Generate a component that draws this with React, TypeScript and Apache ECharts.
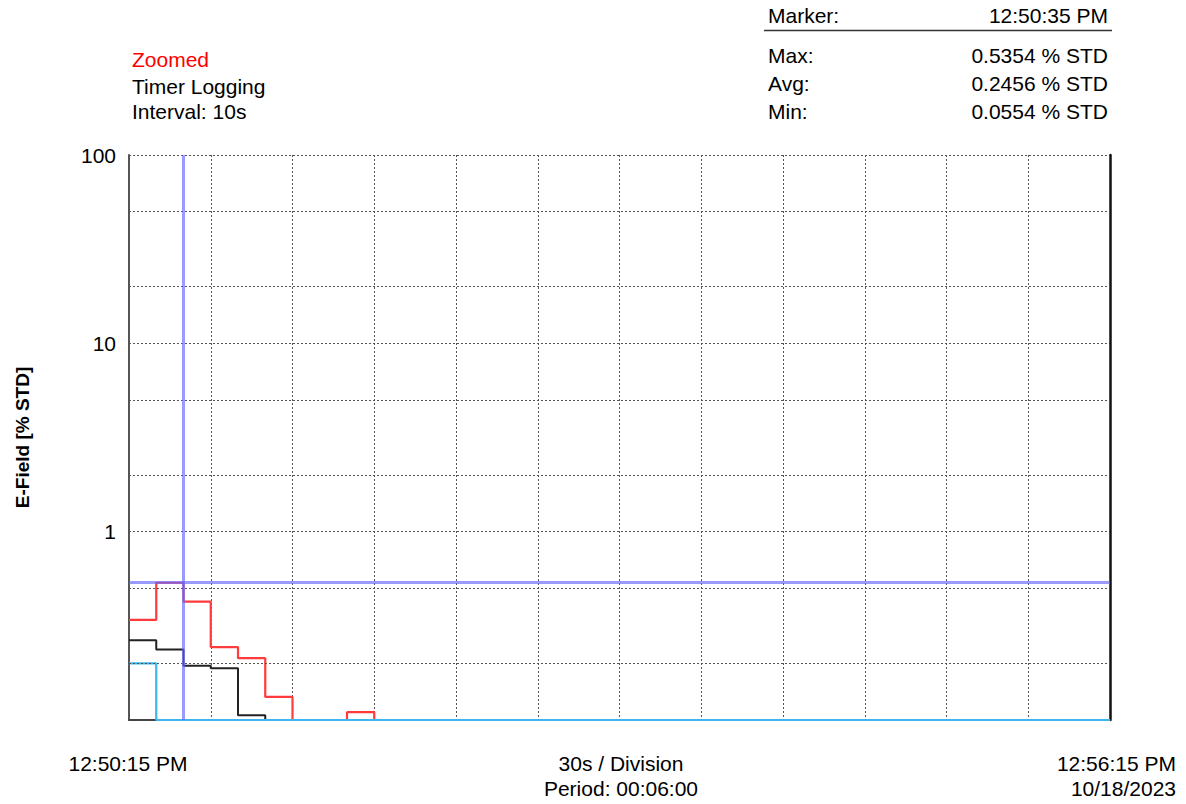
import React, { useEffect, useRef } from "react";
import * as echarts from "echarts";

// Time offsets (s) from 12:50:15 PM, one logged value every 10 s
const times = [
  0, 10, 20, 30, 40, 50, 60, 70, 80, 90, 100, 110, 120, 130, 140, 150, 160, 170,
  180, 190, 200, 210, 220, 230, 240, 250, 260, 270, 280, 290, 300, 310, 320, 330,
  340, 350, 360,
];
// values in % STD (values under 0.1 sit on the bottom of the chart)
const redValues = [
  0.34, 0.5354, 0.425, 0.244, 0.213, 0.1326, 0.085, 0.08, 0.11, 0.08, 0.075,
  0.075, 0.07, 0.07, 0.07, 0.072, 0.07, 0.07, 0.068, 0.07, 0.07, 0.07, 0.069,
  0.07, 0.07, 0.07, 0.07, 0.07, 0.071, 0.07, 0.07, 0.07, 0.07, 0.07, 0.07, 0.07,
  0.07,
];
const blackValues = [
  0.265, 0.237, 0.194, 0.188, 0.106, 0.08, 0.07, 0.068, 0.07, 0.066, 0.065,
  0.065, 0.064, 0.065, 0.065, 0.065, 0.064, 0.065, 0.065, 0.065, 0.065, 0.064,
  0.065, 0.065, 0.065, 0.065, 0.065, 0.065, 0.065, 0.064, 0.065, 0.065, 0.065,
  0.065, 0.065, 0.065, 0.065,
];
const cyanValues = [
  0.2, 0.06, 0.058, 0.057, 0.056, 0.056, 0.0554, 0.056, 0.056, 0.056, 0.056,
  0.056, 0.056, 0.056, 0.056, 0.056, 0.056, 0.056, 0.056, 0.056, 0.056, 0.056,
  0.056, 0.056, 0.056, 0.056, 0.056, 0.056, 0.056, 0.056, 0.056, 0.056, 0.056,
  0.056, 0.056, 0.056, 0.056,
];
const yMin = 0.1;
const yMax = 100;
const xMin = 0;
const xMax = 360;
const xDivision = 30;
const minorGridValues = [0.2, 0.5, 2, 5, 20, 50];
const markerTime = 20;
const maxValue = 0.5354;

const headerLeft = ["Zoomed", "Timer Logging", "Interval: 10s"];
const statLabels = ["Max:", "Avg:", "Min:"];
const statValues = ["0.5354 % STD", "0.2456 % STD", "0.0554 % STD"];
const markerLabel = "Marker:";
const markerValue = "12:50:35 PM";
const startLabel = "12:50:15 PM";
const endLabel = "12:56:15 PM";
const endDate = "10/18/2023";
const divisionLabel = "30s / Division";
const periodLabel = "Period: 00:06:00";
const yAxisName = "E-Field [% STD]";

const FONT = "'Liberation Sans', Arial, 'DejaVu Sans', sans-serif";
const FS = 21;

function toPairs(vals: number[]) {
  return times.map((t, i) => [t, Math.max(vals[i], yMin)]);
}

export default function App() {
  const ref = useRef<HTMLDivElement>(null);
  useEffect(() => {
    if (!ref.current) return;
    const chart = echarts.init(ref.current, null, { renderer: "svg" });
    const txt = (
      text: string,
      x: number,
      y: number,
      align: string,
      color = "#000"
    ) => ({
      type: "text",
      x,
      y,
      style: {
        text,
        fill: color,
        font: `${FS}px ${FONT}`,
        textAlign: align,
        textVerticalAlign: "middle",
      },
    });
    const graphics: any[] = [];
    headerLeft.forEach((t, i) =>
      graphics.push(txt(t, 132, [59, 86, 111][i], "left", i === 0 ? "#ff0000" : "#000"))
    );
    graphics.push(txt(markerLabel, 768, 15, "left"));
    graphics.push(txt(markerValue, 1108, 15, "right"));
    graphics.push({
      type: "line",
      shape: { x1: 764, y1: 30.5, x2: 1112, y2: 30.5 },
      style: { stroke: "#333", lineWidth: 1.5 },
    });
    statLabels.forEach((t, i) => {
      const y = [55, 83, 111][i];
      graphics.push(txt(t, 768, y, "left"));
      graphics.push(txt(statValues[i], 1108, y, "right"));
    });
    graphics.push(txt(startLabel, 128, 763, "center"));
    graphics.push(txt(divisionLabel, 621, 763, "center"));
    graphics.push(txt(periodLabel, 621, 788, "center"));
    graphics.push(txt(endLabel, 1176, 763, "right"));
    graphics.push(txt(endDate, 1176, 788, "right"));

    const dotted = { color: "#555", width: 1, type: [2, 2] as any };

    chart.setOption({
      animation: false,
      backgroundColor: "#fff",
      grid: {
        left: 129,
        right: 76,
        top: 155,
        bottom: 84,
        containLabel: false,
        outerBoundsMode: "none",
      },
      xAxis: {
        type: "value",
        min: xMin,
        max: xMax,
        interval: xDivision,
        axisLine: { show: true, lineStyle: { color: "#444", width: 2 } },
        axisTick: { show: false },
        axisLabel: { show: false },
        splitLine: { show: true, lineStyle: dotted },
      },
      yAxis: [
        {
          type: "log",
          logBase: 10,
          min: yMin,
          max: yMax,
          name: yAxisName,
          nameLocation: "middle",
          nameGap: 97,
          nameTextStyle: { fontFamily: FONT, fontSize: 19, fontWeight: "bold", color: "#000" },
          axisLine: { show: true, lineStyle: { color: "#555", width: 2 } },
          axisTick: { show: false },
          axisLabel: {
            showMinLabel: false,
            fontFamily: FONT,
            fontSize: FS,
            color: "#000",
            margin: 13,
            formatter: (v: number) => (v >= 1 ? String(Math.round(v)) : ""),
          },
          splitLine: { show: true, lineStyle: dotted },
        },
        {
          type: "log",
          logBase: 10,
          min: yMin,
          max: yMax,
          position: "right",
          axisLine: { show: true, lineStyle: { color: "#111", width: 2.5 } },
          axisTick: { show: false },
          axisLabel: { show: false },
          splitLine: { show: false },
        },
      ],
      series: [
        {
          type: "line",
          name: "grid",
          data: [],
          silent: true,
          markLine: {
            silent: true,
            symbol: ["none", "none"],
            label: { show: false },
            lineStyle: dotted,
            data: minorGridValues.map((v) => ({ yAxis: v })),
          },
        },
        {
          type: "line",
          name: "red",
          step: "end",
          data: toPairs(redValues),
          showSymbol: false,
          lineStyle: { color: "#ff3b3b", width: 2.2 },
          itemStyle: { color: "#ff3b3b" },
        },
        {
          type: "line",
          name: "black",
          step: "end",
          data: toPairs(blackValues),
          showSymbol: false,
          lineStyle: { color: "#222222", width: 2 },
          itemStyle: { color: "#222" },
        },
        {
          type: "line",
          name: "cyan",
          step: "end",
          data: toPairs(cyanValues),
          showSymbol: false,
          lineStyle: { color: "#3bb6ee", width: 2.2 },
          itemStyle: { color: "#3bb6ee" },
        },
        {
          type: "line",
          name: "marker",
          data: [],
          markLine: {
            silent: true,
            symbol: ["none", "none"],
            label: { show: false },
            lineStyle: { color: "rgba(100,100,255,0.65)", width: 3, type: "solid" },
            data: [{ xAxis: markerTime }, { yAxis: maxValue }],
          },
        },
      ],
      graphic: graphics,
    });
    return () => chart.dispose();
  }, []);
  return (
    <div
      ref={ref}
      style={{ position: "fixed", left: 0, top: 0, width: 1186, height: 804 }}
    />
  );
}
